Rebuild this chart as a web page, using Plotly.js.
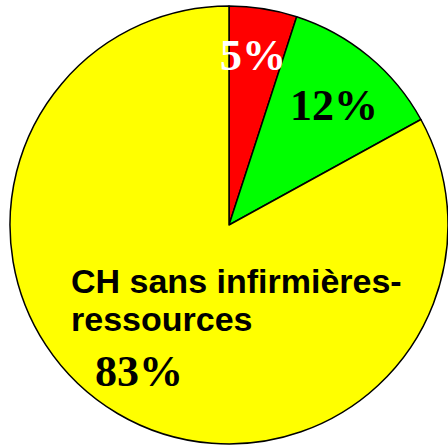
<!DOCTYPE html>
<html>
<head>
<meta charset="utf-8">
<script src="https://cdn.plot.ly/plotly-3.0.1.min.js"></script>
<style>
  html, body { margin: 0; padding: 0; background: #fff; }
  #chart { width: 448px; height: 445px; }
</style>
</head>
<body>
<div id="chart"></div>
<script>
// slices, clockwise from 12 o'clock
const labels = ['CH avec infirmières-ressources (a)', 'CH avec infirmières-ressources (b)', 'CH sans infirmières-ressources'];
const values = [5, 12, 83];
const colors = ['#ff0000', '#00ff00', '#ffff00'];
const pctColors = ['#ffffff', '#000000', '#000000'];

// label positions inside the pie (page px)
const pctPos = [[253, 55], [334, 105], [139, 371]];

const W = 448, H = 445;
const M = { l: 10, r: 0, t: 5, b: 0 };
// paper coords are relative to the plot area inside the margins
const px = x => (x - M.l) / (W - M.l - M.r);
const py = y => 1 - (y - M.t) / (H - M.t - M.b);

const annotations = values.map((v, i) => ({
    text: '<b>' + v + '%</b>',
    x: px(pctPos[i][0]), y: py(pctPos[i][1]),
    xref: 'paper', yref: 'paper',
    xanchor: 'center', yanchor: 'middle',
    showarrow: false,
    font: { family: 'Liberation Serif, Times New Roman, serif', size: 44, color: pctColors[i] }
}));

// name of the big slice, split over two lines
const nameLines = ['CH sans infirmières-', 'ressources'];
nameLines.forEach((t, j) => annotations.push({
    text: '<b>' + t + '</b>',
    x: px(69), y: py(281 + j * 38),
    xref: 'paper', yref: 'paper',
    xanchor: 'left', yanchor: 'middle',
    showarrow: false,
    font: { family: 'Liberation Sans, Arial, sans-serif', size: 34, color: '#000' }
}));

const trace = {
    type: 'pie',
    labels: labels,
    values: values,
    sort: false,
    direction: 'clockwise',
    rotation: 0,
    textinfo: 'none',
    hoverinfo: 'none',
    marker: { colors: colors, line: { color: '#000', width: 1.5 } }
};

const layout = {
    width: W, height: H,
    margin: M,
    showlegend: false,
    paper_bgcolor: '#fff',
    annotations: annotations
};

Plotly.newPlot('chart', [trace], layout, { staticPlot: true });
</script>
</body>
</html>
